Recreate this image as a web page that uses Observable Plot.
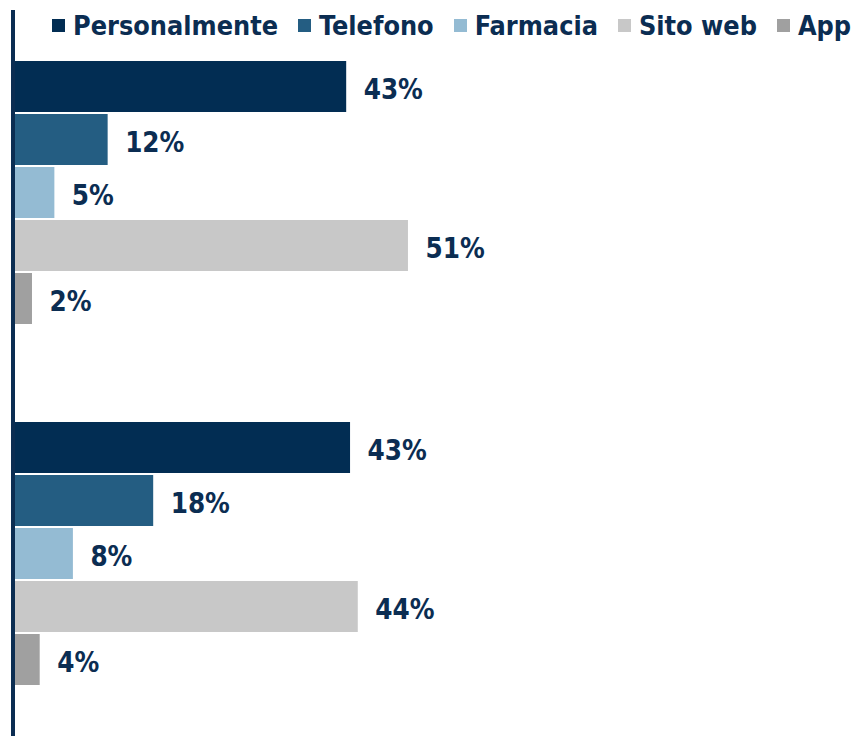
<!DOCTYPE html>
<html>
<head>
<meta charset="utf-8">
<script src="https://cdn.jsdelivr.net/npm/d3@7"></script>
<script src="https://cdn.jsdelivr.net/npm/@observablehq/plot@0.6"></script>
<style>
  html, body { margin: 0; padding: 0; background: #fff; }
  #wrap { position: relative; width: 854px; height: 736px; }
  .f { font-family: "DejaVu Sans Condensed", "DejaVu Sans", sans-serif; font-stretch: semi-condensed; font-weight: bold; }
  #legend { position: absolute; top: 12px; left: 52px; display: flex; align-items: center; gap: 20px;
            font-size: 26.8px; line-height: 27px; color: #0b2d52; white-space: nowrap; }
  #legend .item { display: flex; align-items: center; }
  #legend .sw { width: 13px; height: 13px; margin-right: 8px; }
</style>
</head>
<body>
<div id="wrap"></div>
<script>
const groups = ["Gruppo A", "Gruppo B"];
const series = ["Personalmente", "Telefono", "Farmacia", "Sito web", "App"];
const valuesA = [42.9, 12.0, 5.1, 50.9, 2.2];
const valuesB = [43.4, 17.9, 7.5, 44.4, 3.2];
const labelsA = ["43%", "12%", "5%", "51%", "2%"];
const labelsB = ["43%", "18%", "8%", "44%", "4%"];
const colors = ["#022d53", "#245d82", "#94bbd3", "#c8c8c8", "#a0a0a0"];

const data = [];
series.forEach((s, i) => data.push({group: groups[0], series: s, value: valuesA[i], label: labelsA[i]}));
series.forEach((s, i) => data.push({group: groups[1], series: s, value: valuesB[i], label: labelsB[i]}));

const fontFamily = '"DejaVu Sans Condensed", "DejaVu Sans", sans-serif';

const chart = Plot.plot({
  width: 854,
  height: 736,
  marginTop: 10,
  marginBottom: 0,
  marginLeft: 15,
  marginRight: 67,
  style: {fontFamily, background: "#fff"},
  facet: {data, y: "group"},
  x: {domain: [0, 100], axis: null},
  y: {domain: series, paddingInner: 0.043, paddingOuter: 0, axis: null},
  fy: {domain: groups, paddingInner: 0.272, paddingOuter: 0.141, axis: null},
  color: {domain: series, range: colors},
  marks: [
    Plot.barX(data, {x: "value", y: "series", fill: "series"}),
    Plot.text(data, {x: "value", y: "series", text: "label", dx: 17, dy: 3, textAnchor: "start",
      fill: "#0b2d52", fontSize: 27.5, fontWeight: "bold", fontFamily}),
    Plot.ruleX([0], {stroke: "#0b2d52", strokeWidth: 4, dx: -2.5, insetTop: -51, insetBottom: -52})
  ]
});

const wrap = document.getElementById("wrap");
wrap.appendChild(chart);

const legend = document.createElement("div");
legend.id = "legend";
legend.className = "f";
series.forEach((s, i) => {
  const item = document.createElement("div");
  item.className = "item";
  const sw = document.createElement("span");
  sw.className = "sw";
  sw.style.background = colors[i];
  const t = document.createElement("span");
  t.textContent = s;
  item.appendChild(sw);
  item.appendChild(t);
  legend.appendChild(item);
});
wrap.appendChild(legend);
</script>
</body>
</html>
